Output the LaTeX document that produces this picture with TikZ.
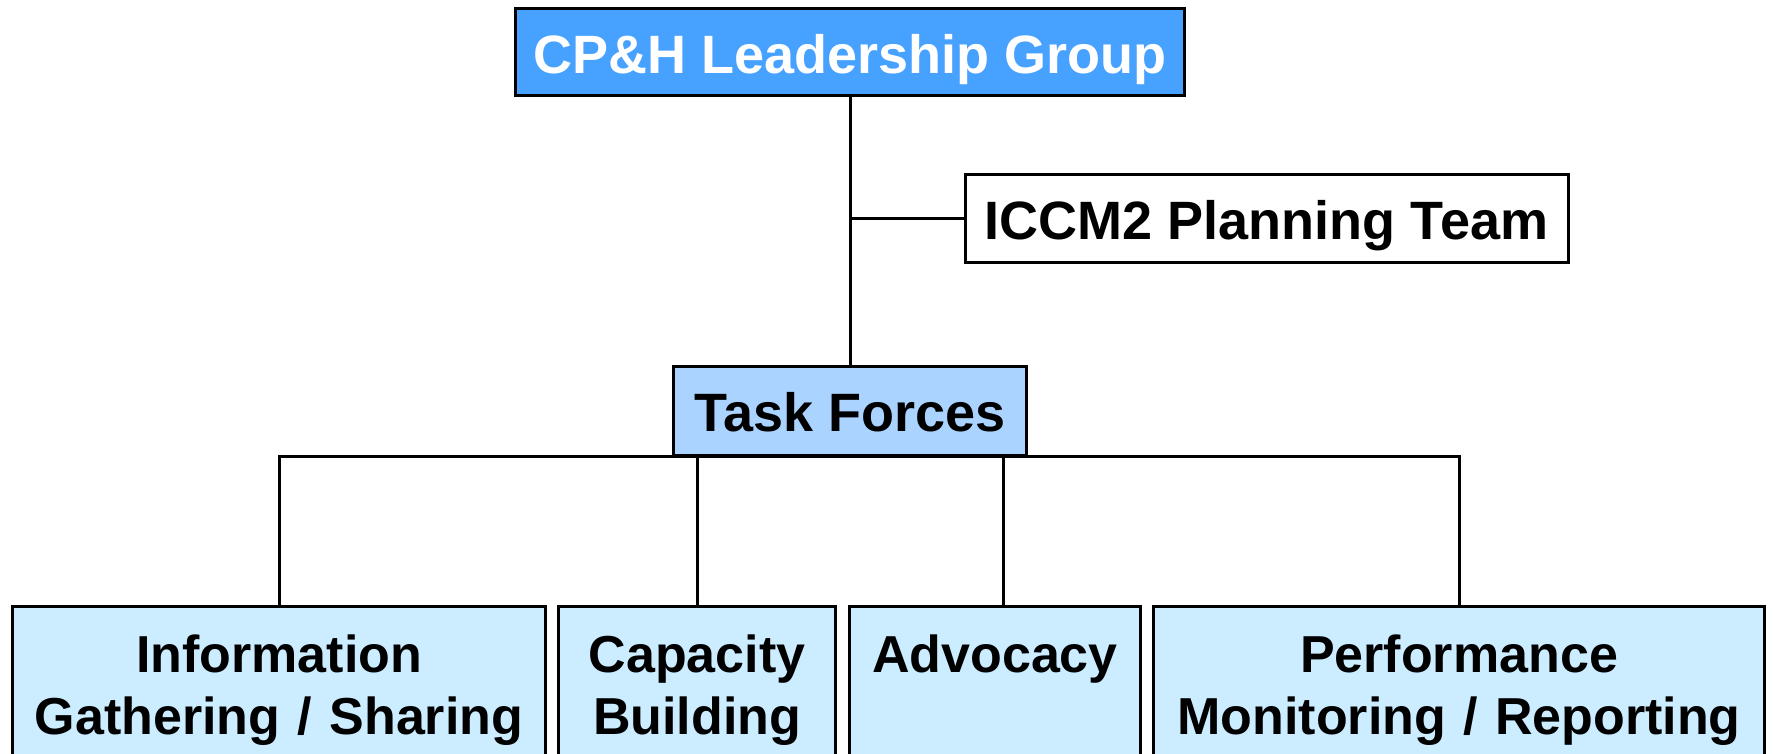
\documentclass[tikz,border=0pt]{standalone}
\usepackage{fontspec}
\setmainfont{Liberation Sans}

\definecolor{LeadBlue}{HTML}{47A1FF}
\definecolor{TaskBlue}{HTML}{AAD4FF}
\definecolor{GroupBlue}{HTML}{CCECFF}

\tikzstyle{Unit} = [draw=black,
                    line width=1.5pt,
                    rectangle,
                    inner sep=0pt,
                    text height=20.8pt,
                    text depth=0pt,
                    font=\fontsize{27pt}{32pt}\selectfont\bfseries]
\tikzstyle{Group} = [Unit,
                     fill=GroupBlue,
                     anchor=north,
                     align=center,
                     inner ysep=13.5pt,
                     text height=19.5pt,
                     text depth=100pt,
                     font=\fontsize{26pt}{31pt}\selectfont\bfseries]

\begin{document}
\begin{tikzpicture}[x=0.5pt, y=-0.5pt, line width=1.5pt]

    \clip (0, 0) rectangle (1773, 754);

    % Top of the chart
    \node (leader) at (850, 52.5) [Unit, fill=LeadBlue, text=white, minimum width=334.5pt, minimum height=43.5pt]{CP\&H Leadership Group};
    \node (planning) at (1266.5, 219) [Unit, fill=white, minimum width=301.5pt, minimum height=44pt]{ICCM2 Planning Team};
    \node (tasks) at (850, 411) [Unit, fill=TaskBlue, minimum width=176.5pt, minimum height=44pt]{Task Forces};

    % Task force groups
    \node (info) at (279, 605) [Group, text width=266.5pt]{Information \\ Gathering / Sharing};
    \node (capacity) at (697, 605) [Group, text width=138.5pt]{Capacity \\ Building};
    \node (advocacy) at (995, 605) [Group, text width=145.5pt]{Advocacy};
    \node (perform) at (1459, 605) [Group, text width=305.5pt]{Performance \\ Monitoring / Reporting};

    % Lines
    \draw (leader) -- (tasks);
    \draw (planning.west) -- (planning.west -| leader.south);

    \draw (tasks.south) -| (info.north);
    \draw (tasks.south) -| (capacity.north);
    \draw (tasks.south) -| ([xshift=4pt]advocacy.north);
    \draw (tasks.south) -| (perform.north);

\end{tikzpicture}
\end{document}
